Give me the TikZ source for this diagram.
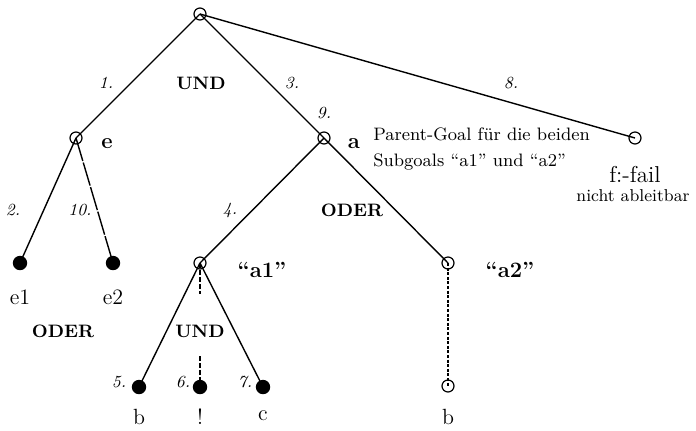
\documentclass[tikz,border=0pt]{standalone}
\usetikzlibrary{calc}
\begin{document}
\begin{tikzpicture}[x=0.5pt,y=-0.5pt,
  open/.style={circle,draw,inner sep=0pt,minimum size=6pt,line width=0.6pt},
  leaf/.style={circle,fill,inner sep=0pt,minimum size=7.2pt},
  edge/.style={line width=0.7pt},
  dedge/.style={line width=0.7pt,dash pattern=on 2.5pt off 1pt},
  fedge/.style={line width=0.7pt,dash pattern=on 1.5pt off 0.8pt},
  num/.style={font=\fontsize{8.5}{9}\selectfont\itshape,inner sep=0pt},
  op/.style={font=\fontsize{9}{10}\selectfont\bfseries,inner sep=0pt},
  nm/.style={font=\fontsize{11}{12}\selectfont\bfseries,inner sep=0pt},
  lt/.style={font=\fontsize{11}{12}\selectfont,inner sep=0pt},
  sm/.style={font=\fontsize{9}{11}\selectfont,inner sep=0pt}]
\useasboundingbox (0,0) rectangle (696,430);
% nodes
\node[open] (root) at (200,14) {};
\node[open] (e) at (76,138) {};
\node[open] (a) at (324,138) {};
\node[open] (f) at (635,138) {};
\node[leaf] (e1) at (20,263) {};
\node[leaf] (e2) at (113,263) {};
\node[open] (a1) at (200,263) {};
\node[open] (a2) at (448,263) {};
\node[leaf] (b1) at (139,387) {};
\node[leaf] (cut) at (200,387) {};
\node[leaf] (c1) at (263,387) {};
\node[open] (b2) at (448,386) {};
\coordinate (cutA) at (200,294);
\coordinate (cutB) at (200,356);
% edges
\draw[edge] (root.center) -- (e.center);
\draw[edge] (root.center) -- (a.center);
\draw[edge] (root.center) -- (f.center);
\draw[edge] (e.center) -- (e1.center);
\draw[edge,dash pattern=on 12pt off 0.8pt] (e.center) -- (e2.center);
\draw[edge] (a.center) -- (a1.center);
\draw[edge] (a.center) -- (a2.center);
\draw[edge] (a1.center) -- (b1.center);
\draw[dedge] (a1.center) -- (cutA);
\draw[dedge] (cutB) -- (cut.center);
\draw[edge] (a1.center) -- (c1.center);
\draw[fedge] (a2.center) -- (b2.center);
% labels
\node[num] (n1) at (106,83) {1.};
\node[op] (und1) at (201,83) {UND};
\node[num] (n3) at (292,83) {3.};
\node[num] (n8) at (511,83) {8.};
\node[num] (n9) at (324,113) {9.};
\node[nm] (le) at (107,144) {e};
\node[nm] (la) at (354,144) {a};
\node[sm,anchor=base west] (pg1) at (373,140) {Parent-Goal für die beiden};
\node[sm,anchor=base west] (pg2) at (373,166) {Subgoals ``a1'' und ``a2''};
\node[font=\fontsize{11.5}{13}\selectfont,inner sep=0pt] (ff) at (635,175) {f:-fail};
\node[font=\fontsize{8.6}{10}\selectfont,inner sep=0pt] (na) at (633,196) {nicht ableitbar};
\node[num] (n2) at (13,210) {2.};
\node[num] (n10) at (80,210) {10.};
\node[num] (n4) at (230,210) {4.};
\node[op] (oder1) at (352,210) {ODER};
\node[lt] (te1) at (20,297) {e1};
\node[lt] (te2) at (113,297) {e2};
\node[nm] (ta1) at (262,270) {``a1''};
\node[nm] (ta2) at (510,270) {``a2''};
\node[op] (oder2) at (63,331) {ODER};
\node[op] (und2) at (200,331) {UND};
\node[num] (n5) at (119,382) {5.};
\node[num] (n6) at (183,382) {6.};
\node[num] (n7) at (245,382) {7.};
\node[lt] (tb1) at (139,417) {b};
\node[lt] (tcut) at (200,417) {!};
\node[lt] (tc) at (263,416) {c};
\node[lt] (tb2) at (448,417) {b};
\end{tikzpicture}
\end{document}
